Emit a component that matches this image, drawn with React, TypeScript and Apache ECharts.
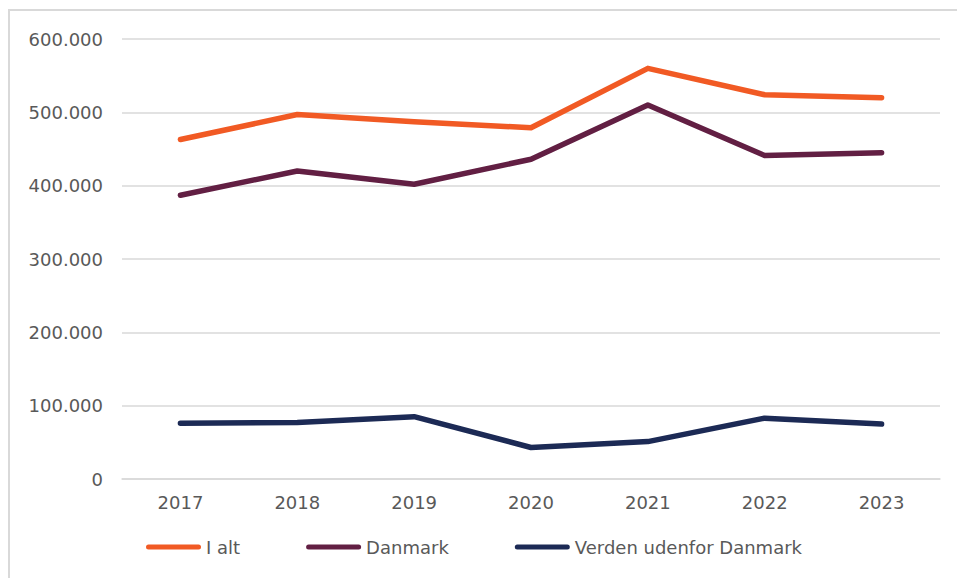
import React, { useEffect, useRef } from "react";
import * as echarts from "echarts";

const years = ["2017", "2018", "2019", "2020", "2021", "2022", "2023"];
const iAlt = [463000, 497000, 487000, 479000, 560000, 524000, 520000];
const danmark = [387000, 420000, 402000, 436000, 510000, 441000, 445000];
const verden = [76000, 77000, 85000, 43000, 51000, 83000, 75000];
const seriesNames = ["I alt", "Danmark", "Verden udenfor Danmark"];
const seriesColors = ["#F15A24", "#621F43", "#1C2A55"];

const fmt = (v: number) =>
  String(Math.round(v)).replace(/\B(?=(\d{3})+(?!\d))/g, ".");

export default function App() {
  const ref = useRef<HTMLDivElement>(null);
  useEffect(() => {
    if (!ref.current) return;
    const chart = echarts.init(ref.current, null, { renderer: "svg" });
    const font = "'DejaVu Sans', Verdana, sans-serif";
    const data = [iAlt, danmark, verden];
    chart.setOption({
      animation: false,
      backgroundColor: "#ffffff",
      textStyle: { fontFamily: font },
      graphic: [
        {
          type: "rect",
          shape: { x: 9, y: 10, width: 1200, height: 800 },
          style: { fill: "none", stroke: "#d9d9d9", lineWidth: 2 },
          silent: true,
        },
      ],
      grid: { left: 122, right: 17, top: 39, bottom: 99 },
      legend: {
        left: 141,
        top: 533,
        itemWidth: 55,
        itemHeight: 5,
        itemGap: 66,
        icon: "path://M2.5,0 H52.5 A2.5,2.5 0 0 1 52.5,5 H2.5 A2.5,2.5 0 0 1 2.5,0 Z",
        textStyle: { color: "#595959", fontSize: 18, fontFamily: font },
        data: seriesNames,
      },
      xAxis: {
        type: "category",
        data: years,
        boundaryGap: true,
        axisTick: { show: false },
        axisLine: { lineStyle: { color: "#d9d9d9", width: 1.5 } },
        axisLabel: { color: "#595959", fontSize: 18, margin: 14, fontFamily: font },
      },
      yAxis: {
        type: "value",
        min: 0,
        max: 600000,
        interval: 100000,
        axisLine: { show: false },
        axisTick: { show: false },
        splitLine: { lineStyle: { color: "#d9d9d9", width: 1.5 } },
        axisLabel: {
          color: "#595959",
          fontSize: 18,
          margin: 19,
          fontFamily: font,
          formatter: (v: number) => fmt(v),
        },
      },
      series: seriesNames.map((name, i) => ({
        name,
        type: "line",
        data: data[i],
        symbol: "none",
        color: seriesColors[i],
        lineStyle: { width: 5.5, color: seriesColors[i], cap: "round", join: "round" },
      })),
    });
    return () => chart.dispose();
  }, []);
  return (
    <div
      ref={ref}
      style={{ position: "absolute", left: 0, top: 0, width: 957, height: 578 }}
    />
  );
}
